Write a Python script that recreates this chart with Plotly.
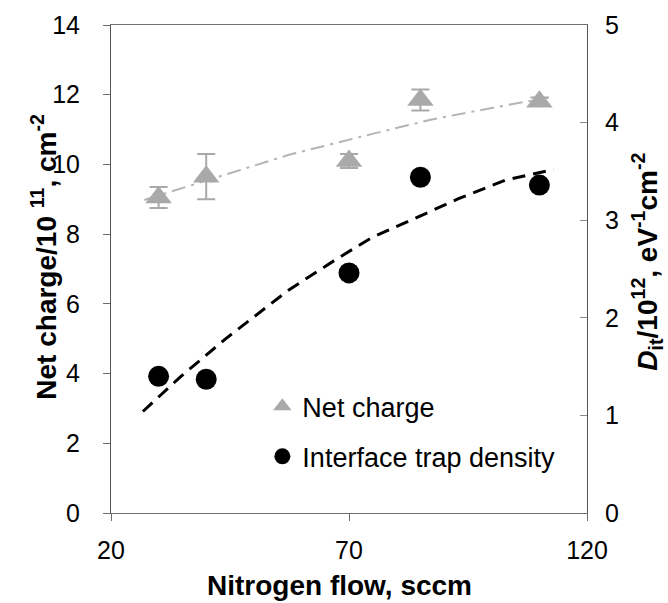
import plotly.graph_objects as go

# Net charge (left axis, 1e11 cm^-2)
flow = [30, 40, 70, 85, 110]
net_charge = [9.05, 9.65, 10.1, 11.85, 11.8]
net_charge_err = [0.3, 0.65, 0.2, 0.3, 0.12]

# Interface trap density (right axis, 1e12 eV^-1 cm^-2)
dit = [1.40, 1.37, 2.46, 3.44, 3.36]

# Trend lines
nc_trend_x = [27, 35, 42.7, 57.2, 74.7, 87.4, 100, 112]
nc_trend_y = [8.98, 9.32, 9.65, 10.27, 10.87, 11.29, 11.62, 11.92]
dit_trend_x = [26.7, 34.7, 44.2, 57.2, 67, 74.7, 83.9, 93, 102.8, 113]
dit_trend_y = [1.04, 1.40, 1.79, 2.28, 2.59, 2.82, 3.02, 3.22, 3.41, 3.52]

x_ticks = [20, 70, 120]

FONT = "Liberation Sans, Arial, sans-serif"
GRAY = "#a9a9a9"

fig = go.Figure()

fig.add_trace(go.Scatter(
    x=nc_trend_x, y=nc_trend_y, mode="lines", showlegend=False,
    line=dict(color="#b4b4b4", width=2, dash="14px,6px,3px,6px"),
    hoverinfo="skip"))
fig.add_trace(go.Scatter(
    x=dit_trend_x, y=dit_trend_y, mode="lines", showlegend=False, yaxis="y2",
    line=dict(color="black", width=3, dash="13px,8px"),
    hoverinfo="skip"))

fig.add_trace(go.Scatter(
    x=flow, y=net_charge, mode="markers", name="Net charge",
    legendgroup="a",
    marker=dict(symbol="triangle-up", size=23, color=GRAY, line=dict(width=0)),
    error_y=dict(type="data", array=net_charge_err, color=GRAY, thickness=2, width=9)))
fig.add_trace(go.Scatter(
    x=flow, y=dit, mode="markers", name="Interface trap density", yaxis="y2",
    legendgroup="b",
    marker=dict(symbol="circle", size=21, color="black", line=dict(width=0))))

fig.update_layout(
    width=668, height=603,
    margin=dict(l=111, r=81, t=25, b=90, pad=0),
    paper_bgcolor="white", plot_bgcolor="white",
    font=dict(family=FONT, size=25, color="black"),
    showlegend=True,
    legend=dict(x=0.318, y=0.268, xanchor="left", yanchor="top",
                bgcolor="rgba(0,0,0,0)", borderwidth=0,
                font=dict(family=FONT, size=27, color="black"),
                tracegroupgap=12, itemsizing="trace"),
    xaxis=dict(range=[20, 120], tickvals=x_ticks, showgrid=False, zeroline=False,
               showline=True, linecolor="#6e6e6e", linewidth=1, mirror=True,
               ticks="outside", ticklen=7, tickcolor="#6e6e6e",
               tickfont=dict(size=25), ticklabelstandoff=8),
    yaxis=dict(range=[0, 14], dtick=2, showgrid=False, zeroline=False,
               showline=True, linecolor="#555555", linewidth=1,
               ticks="outside", ticklen=7, tickcolor="#6e6e6e",
               tickfont=dict(size=25), ticklabelstandoff=18),
    yaxis2=dict(range=[0, 5], dtick=1, overlaying="y", side="right",
                showgrid=False, zeroline=False,
                showline=True, linecolor="#555555", linewidth=1,
                ticks="inside", ticklen=7, tickcolor="#8a8a8a",
                tickfont=dict(size=25), ticklabelstandoff=12),
    annotations=[
        dict(text="<b>Nitrogen flow, sccm</b>",
             xref="paper", yref="paper", x=0.481, y=-0.148,
             xanchor="center", yanchor="middle", showarrow=False,
             font=dict(family=FONT, size=28, color="black")),
        dict(text="<b>Net charge/10 <sup>11</sup>, cm<sup>-2</sup></b>",
             xref="paper", yref="paper", x=-0.141, y=0.525,
             xanchor="center", yanchor="middle", textangle=-90, showarrow=False,
             font=dict(family=FONT, size=28, color="black")),
        dict(text="<b><i>D</i><sub>it</sub>/10<sup>12</sup>, eV<sup>-1</sup>cm<sup>-2</sup></b>",
             xref="paper", yref="paper", x=1.126, y=0.515,
             xanchor="center", yanchor="middle", textangle=-90, showarrow=False,
             font=dict(family=FONT, size=28, color="black")),
    ],
)

fig.write_html("out.html")
